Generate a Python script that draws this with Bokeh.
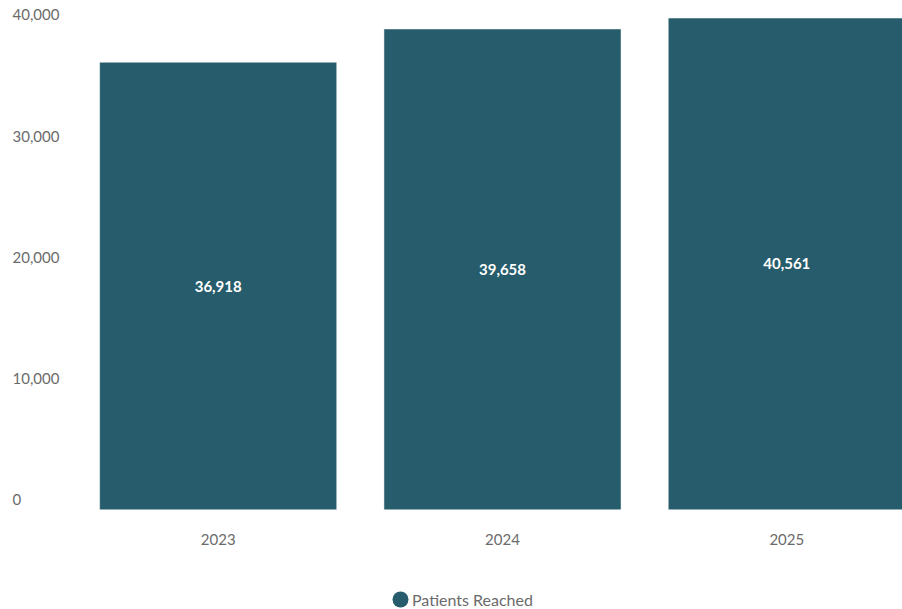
from bokeh.plotting import figure
from bokeh.models import Range1d, FixedTicker, ColumnDataSource, Legend, LegendItem
from bokeh.core.properties import value
from bokeh.embed import file_html
from bokeh.resources import INLINE

# ---- data ----
years = ["2023", "2024", "2025"]
patients = [36918, 39658, 40561]
y_ticks = [0, 10000, 20000, 30000, 40000]
series_name = "Patients Reached"

# ---- style ----
BAR = "#265C6B"
GREY = "#6b6b6b"
FONT = "Lato"

idx = list(range(len(years)))
src = ColumnDataSource(dict(
    x=idx,
    top=patients,
    mid=[v / 2 for v in patients],
    label=[f"{v:,}" for v in patients],
))

p = figure(width=902, height=609, output_backend="svg", toolbar_location=None,
           x_range=Range1d(-0.7657, 2.407), y_range=Range1d(-8223, 42007),
           y_axis_location=None,
           min_border_left=0, min_border_right=0, min_border_top=0, min_border_bottom=0)
p.outline_line_color = None
p.grid.visible = False
p.background_fill_color = "white"
p.border_fill_color = "white"

p.vbar(x="x", top="top", bottom=0, width=0.834, source=src,
       fill_color=BAR, line_color="white", line_alpha=0.5, line_width=1)

# legend marker (drawn under the bar, same colour)
e = p.ellipse(x="x", y="mid", width=16, height=16, width_units="screen", height_units="screen",
              source=src, fill_color=BAR, line_color=None)

p.text(x="x", y="mid", text="label", source=src, text_align="center", text_baseline="middle",
       text_font=value(FONT), text_font_style="bold", text_font_size="15px", text_color="white")

# y tick labels (left-aligned, drawn just above their value)
p.extra_x_ranges = {"lab": Range1d(0, 1)}
tsrc = ColumnDataSource(dict(x=[0] * len(y_ticks), y=y_ticks, t=[f"{v:,}" for v in y_ticks]))
p.text(x="x", y="y", text="t", source=tsrc, x_range_name="lab", x_offset=12, y_offset=-10,
       text_align="left", text_baseline="middle", text_font=value(FONT),
       text_font_size="15px", text_color=GREY)

# x axis, fixed at y = 0
ax = p.xaxis[0]
ax.fixed_location = 0
ax.ticker = FixedTicker(ticks=idx)
ax.major_label_overrides = {i: y for i, y in zip(idx, years)}
ax.axis_line_color = None
ax.major_tick_line_color = None
ax.minor_tick_line_color = None
ax.major_label_standoff = 18
ax.major_label_text_font = FONT
ax.major_label_text_font_size = "15px"
ax.major_label_text_color = GREY

legend = Legend(items=[LegendItem(label=series_name, renderers=[e])],
                location=(390, 0), orientation="horizontal",
                glyph_width=20, glyph_height=20, label_standoff=2,
                padding=0, margin=0, border_line_color=None, background_fill_alpha=0,
                label_text_font=FONT, label_text_font_size="16px", label_text_color=GREY,
                label_text_baseline="middle")
p.add_layout(legend)

open("out.html", "w").write(file_html(p, INLINE))
